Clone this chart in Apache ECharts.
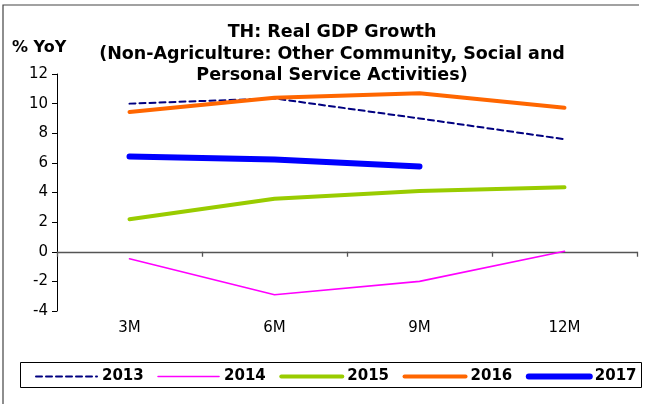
<!DOCTYPE html>
<html>
<head>
<meta charset="utf-8">
<script src="https://cdn.jsdelivr.net/npm/echarts@6/dist/echarts.min.js"></script>
<style>
  html, body { margin: 0; padding: 0; background: #fff; }
  #chart { width: 648px; height: 404px; }
</style>
</head>
<body>
<div id="chart"></div>
<script>
// Data
const categories = ['3M', '6M', '9M', '12M'];
const y2013 = [10.0, 10.35, 9.0, 7.6];
const y2014 = [-0.47, -2.9, -2.0, 0.03];
const y2015 = [2.2, 3.58, 4.1, 4.35];
const y2016 = [9.43, 10.4, 10.7, 9.72];
const y2017 = [6.43, 6.22, 5.76];

const font = '"DejaVu Sans", "Liberation Sans", Arial, sans-serif';

// Series look: name -> [color, width, dash]
const looks = {
  '2013': ['#000080', 2, [6, 4]],
  '2014': ['#FF00FF', 1.6, 'solid'],
  '2015': ['#99CC00', 4, 'solid'],
  '2016': ['#FF6600', 4, 'solid'],
  '2017': ['#0000FF', 6, 'solid']
};

const chart = echarts.init(document.getElementById('chart'));

const makeLine = (name, data) => ({
  name: name,
  type: 'line',
  data: data,
  xAxisIndex: 0,
  symbol: 'none',
  showSymbol: false,
  lineStyle: { color: looks[name][0], width: looks[name][1], type: looks[name][2], cap: 'round' },
  itemStyle: { color: looks[name][0] },
  emphasis: { disabled: true }
});

const option = {
  animation: false,
  backgroundColor: '#fff',
  textStyle: { fontFamily: font },
  title: {
    text: 'TH: Real GDP Growth\n(Non-Agriculture: Other Community, Social and\nPersonal Service Activities)',
    left: 327,
    top: 17,
    textAlign: 'center',
    textStyle: {
      fontFamily: font,
      fontSize: 17.5,
      fontWeight: 'bold',
      color: '#000',
      lineHeight: 21.5
    }
  },
  graphic: [
    {
      type: 'polyline',
      shape: { points: [[3, 404], [3, 5], [639, 5]] },
      style: { stroke: '#444', lineWidth: 1.2, fill: null }
    },
    {
      type: 'rect',
      shape: { x: 20.5, y: 362.5, width: 621, height: 25 },
      style: { stroke: '#000', lineWidth: 1, fill: null }
    },
    {
      type: 'text',
      left: 12,
      top: 40,
      style: { text: '% YoY', font: 'bold 16px ' + font, fill: '#000' }
    }
  ],
  legend: {
    left: 35,
    top: 369,
    itemWidth: 61,
    itemHeight: 14,
    itemGap: 13.5,
    padding: 0,
    itemStyle: { opacity: 0 },
    textStyle: { fontFamily: font, fontSize: 15, fontWeight: 'bold', color: '#000' },
    data: Object.keys(looks).map(name => ({
      name: name,
      lineStyle: { color: looks[name][0], width: looks[name][1], type: looks[name][2], cap: 'round' }
    }))
  },
  grid: {
    left: 57,
    right: 11,
    top: 74,
    bottom: 93,
    containLabel: false
  },
  xAxis: [
    {
      type: 'category',
      data: categories,
      position: 'bottom',
      boundaryGap: true,
      axisLine: { show: false, onZero: false },
      axisTick: { show: false },
      axisLabel: { color: '#000', fontSize: 15, fontFamily: font, margin: 10 },
      splitLine: { show: false }
    },
    {
      type: 'category',
      data: categories,
      position: 'top',
      boundaryGap: true,
      axisLine: { show: true, onZero: true, lineStyle: { color: '#555', width: 1.3 } },
      axisTick: { show: true, inside: true, length: 5, interval: 0, lineStyle: { color: '#555', width: 1.3 } },
      axisLabel: { show: false },
      splitLine: { show: false }
    }
  ],
  yAxis: {
    type: 'value',
    min: -4,
    max: 12,
    interval: 2,
    axisLine: { show: true, lineStyle: { color: '#000', width: 1 } },
    axisTick: { show: true, length: 5, lineStyle: { color: '#000' } },
    axisLabel: { color: '#000', fontSize: 15, fontFamily: font, margin: 9 },
    splitLine: { show: false }
  },
  series: Object.keys(looks).map(name => makeLine(name, {
    '2013': y2013, '2014': y2014, '2015': y2015, '2016': y2016, '2017': y2017
  }[name]))
};

chart.setOption(option);
</script>
</body>
</html>
